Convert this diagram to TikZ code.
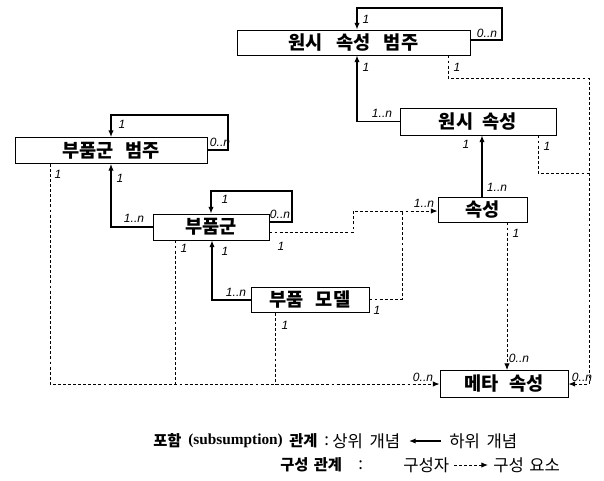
\documentclass[tikz,border=0pt]{standalone}
\usepackage{fontspec}
\setmainfont{Liberation Serif}
\newfontfamily\kr{Noto Sans CJK KR}
\newfontfamily\lab{Liberation Sans}
\usetikzlibrary{arrows.meta}
\newcommand{\gp}[1]{\hspace{#1pt}}
\tikzset{
  box/.style={draw, line width=0.65pt, inner sep=0pt, font=\kr\bfseries\fontsize{14}{14}\selectfont},
  sub/.style={line width=0.9pt, -{Latex[length=5pt,width=4pt]}},
  comp/.style={line width=0.7pt, dash pattern=on 2.2pt off 1.6pt, -{Latex[length=5pt,width=4pt]}},
  compn/.style={line width=0.7pt, dash pattern=on 2.2pt off 1.6pt},
  lbl/.style={font=\lab\itshape\fontsize{9}{9}\selectfont, inner sep=0pt},
  leg/.style={font=\kr\fontsize{12.5}{12.5}\selectfont, inner sep=0pt, anchor=west},
  legb/.style={font=\kr\bfseries\fontsize{11.5}{11.5}\selectfont, inner sep=0pt, anchor=west}
}
\begin{document}
\begin{tikzpicture}[x=0.75pt,y=-0.75pt]
\useasboundingbox (0,0) rectangle (604,480);
% boxes
\node[box, minimum width=233*0.75pt, minimum height=25*0.75pt] (A) at (353.5,42.5) {원시\gp{10}속성\gp{10}범주};
\node[box, minimum width=156*0.75pt, minimum height=27*0.75pt] (B) at (478,121.5) {원시\gp{7}속성};
\node[box, minimum width=192*0.75pt, minimum height=26*0.75pt] (C) at (111,150.5) {부품군\gp{9}범주};
\node[box, minimum width=116*0.75pt, minimum height=26*0.75pt] (D) at (211,227) {부품군};
\node[box, minimum width=89*0.75pt, minimum height=25*0.75pt] (E) at (482.5,209.5) {속성};
\node[box, minimum width=118*0.75pt, minimum height=25*0.75pt] (F) at (310,300) {부품\gp{9}모델};
\node[box, minimum width=128*0.75pt, minimum height=27*0.75pt] (G) at (504,384) {메타\gp{8}속성};
% subsumption
\draw[sub] (A.east |- 0,40) -- (502,40) -- (502,8) -- (357,8) -- (357,0 |- A.north);
\draw[sub] (B.west) -| (357,0 |- A.south);
\draw[sub] (482,0 |- E.north) -- (482,0 |- B.south);
\draw[sub] (C.east |- 0,150) -- (228,150) -- (228,115) -- (111,115) -- (111,0 |- C.north);
\draw[sub] (D.west) -| (111,0 |- C.south);
\draw[sub] (D.east |- 0,222) -- (292,222) -- (292,191) -- (211,191) -- (211,0 |- D.north);
\draw[sub] (F.west) -| (212,0 |- D.south);
% composition
\draw[comp] (D.east |- 0,232) -- (353,232) -- (353,211) -- (E.west |- 0,211);
\draw[compn] (F.east |- 0,299) -- (402,299) -- (402,211);
\draw[comp] (448,0 |- A.south) -- (448,78) -- (589,78) -- (589,0 |- G.east) -- (G.east);
\draw[compn] (538,0 |- B.south) -- (538,173) -- (589,173);
\draw[comp] (507,0 |- E.south) -- (507,0 |- G.north);
\draw[comp] (50,0 |- C.south) -- (50,0 |- G.west) -- (G.west);
\draw[compn] (175,0 |- D.south) -- (175,384);
\draw[compn] (275,0 |- F.south) -- (275,384);
% multiplicities
\node[lbl] (a1) at (366,19) {1};
\node[lbl] (a2) at (487,33) {0..n};
\node[lbl] (a3) at (366,67) {1};
\node[lbl] (a4) at (457,67) {1};
\node[lbl] (b1) at (382,113) {1..n};
\node[lbl] (b2) at (466,144) {1};
\node[lbl] (b3) at (547,146) {1};
\node[lbl] (e1) at (497,187) {1..n};
\node[lbl] (e2) at (424,203) {1..n};
\node[lbl] (e3) at (516,233) {1};
\node[lbl] (g1) at (519,358) {0..n};
\node[lbl] (g2) at (423,377) {0..n};
\node[lbl] (g3) at (582,377) {0..n};
\node[lbl] (c1) at (122,124) {1};
\node[lbl] (c2) at (220,142) {0..n};
\node[lbl] (c3) at (58,174) {1};
\node[lbl] (c4) at (120,178) {1};
\node[lbl] (d1) at (134,218) {1..n};
\node[lbl] (d2) at (225,199) {1};
\node[lbl] (d3) at (280,214) {0..n};
\node[lbl] (d4) at (281,246) {1};
\node[lbl] (d5) at (184,248) {1};
\node[lbl] (d6) at (225,251) {1};
\node[lbl] (f1) at (236,292) {1..n};
\node[lbl] (f2) at (377,310) {1};
\node[lbl] (f3) at (285,325) {1};
% legend
\node[legb] (k1) at (153,441) {포함};
\node[inner sep=0pt, anchor=west, font=\bfseries\fontsize{11.5}{11.5}\selectfont] (k2) at (188,441) {(subsumption)};
\node[legb] (k3) at (289,441) {관계};
\node[leg] (k4) at (324,441) {:};
\node[leg] (k5) at (332,441) {상위\gp{5}개념};
\coordinate (k6s) at (441,441);
\coordinate (k6e) at (409,441);
\draw[sub] (k6s) -- (k6e);
\node[leg] (k7) at (449,441) {하위\gp{5}개념};
\node[legb] (m1) at (280,465) {구성\gp{4}관계};
\node[leg] (m2) at (358,465) {:};
\node[leg] (m3) at (403,465) {구성자};
\coordinate (m4s) at (454,465);
\coordinate (m4e) at (488,465);
\draw[comp] (m4s) -- (m4e);
\node[leg] (m5) at (493,465) {구성\gp{4}요소};
\end{tikzpicture}
\end{document}
